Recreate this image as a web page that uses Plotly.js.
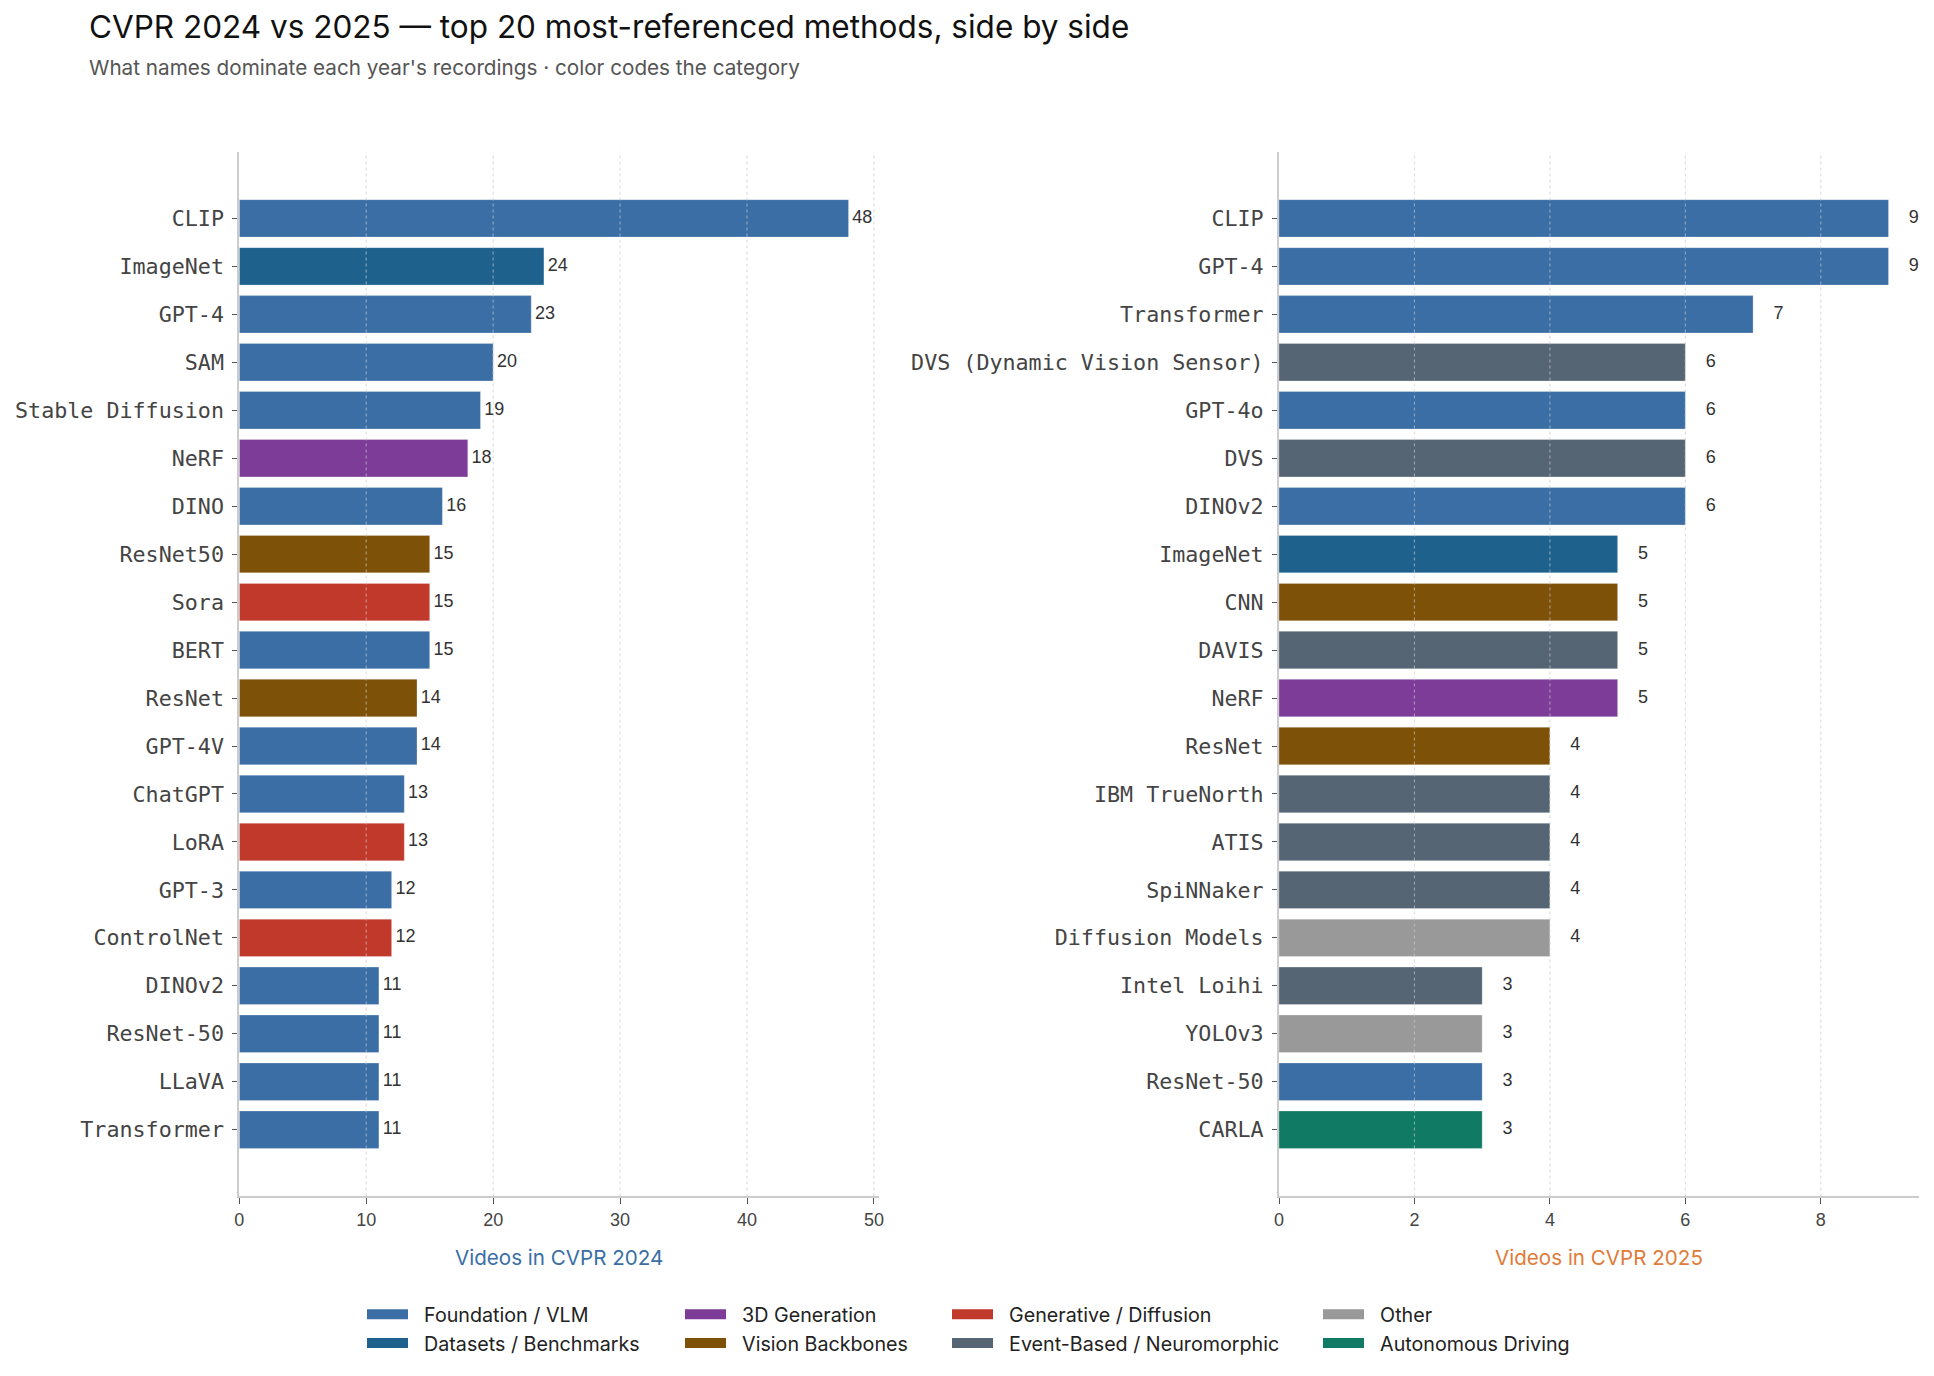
<!DOCTYPE html>
<html><head><meta charset="utf-8">
<script src="https://cdn.plot.ly/plotly-3.0.1.min.js"></script>
<style>html,body{margin:0;padding:0;background:#fff}</style>
</head><body><div id="chart" style="width:1934px;height:1376px"></div>
<script>
const names2024 = ["CLIP","ImageNet","GPT-4","SAM","Stable Diffusion","NeRF","DINO","ResNet50","Sora","BERT","ResNet","GPT-4V","ChatGPT","LoRA","GPT-3","ControlNet","DINOv2","ResNet-50","LLaVA","Transformer"];
const values2024 = [48,24,23,20,19,18,16,15,15,15,14,14,13,13,12,12,11,11,11,11];
const cats2024 = ["Foundation / VLM","Datasets / Benchmarks","Foundation / VLM","Foundation / VLM","Foundation / VLM","3D Generation","Foundation / VLM","Vision Backbones","Generative / Diffusion","Foundation / VLM","Vision Backbones","Foundation / VLM","Foundation / VLM","Generative / Diffusion","Foundation / VLM","Generative / Diffusion","Foundation / VLM","Foundation / VLM","Foundation / VLM","Foundation / VLM"];
const ticks2024 = [0,10,20,30,40,50];

const names2025 = ["CLIP","GPT-4","Transformer","DVS (Dynamic Vision Sensor)","GPT-4o","DVS","DINOv2","ImageNet","CNN","DAVIS","NeRF","ResNet","IBM TrueNorth","ATIS","SpiNNaker","Diffusion Models","Intel Loihi","YOLOv3","ResNet-50","CARLA"];
const values2025 = [9,9,7,6,6,6,6,5,5,5,5,4,4,4,4,4,3,3,3,3];
const cats2025 = ["Foundation / VLM","Foundation / VLM","Foundation / VLM","Event-Based / Neuromorphic","Foundation / VLM","Event-Based / Neuromorphic","Foundation / VLM","Datasets / Benchmarks","Vision Backbones","Event-Based / Neuromorphic","3D Generation","Vision Backbones","Event-Based / Neuromorphic","Event-Based / Neuromorphic","Event-Based / Neuromorphic","Other","Event-Based / Neuromorphic","Other","Foundation / VLM","Autonomous Driving"];
const ticks2025 = [0,2,4,6,8];

const categories = ["Foundation / VLM","Datasets / Benchmarks","3D Generation","Vision Backbones","Generative / Diffusion","Event-Based / Neuromorphic","Other","Autonomous Driving"];
const categoryColors = ["#3a6ea5","#1f618d","#7d3c98","#7e5109","#c0392b","#566573","#999999","#117a65"];
const legendColumn = ["legend","legend","legend2","legend2","legend3","legend3","legend4","legend4"];

const W = 1934, H = 1376;
const textFont = "Inter, Liberation Sans, Arial, sans-serif";
const numFont = "Liberation Sans, Arial, sans-serif";
const monoFont = "DejaVu Sans Mono, monospace";

const panels = [
  {names: names2024, values: values2024, cats: cats2024, ticks: ticks2024, xa: "x", ya: "y"},
  {names: names2025, values: values2025, cats: cats2025, ticks: ticks2025, xa: "x2", ya: "y2"}
];

const traces = [];
const shapes = [];
panels.forEach(p => {
  categories.forEach((c, ci) => {
    const idx = p.cats.map((v, i) => v === c ? i : -1).filter(i => i >= 0);
    if (!idx.length) return;
    traces.push({
      type: "bar", orientation: "h",
      x: idx.map(i => p.values[i]), y: idx.map(i => p.names[i]),
      xaxis: p.xa, yaxis: p.ya,
      name: c, legendgroup: c, showlegend: false,
      marker: {color: categoryColors[ci], line: {width: 1, color: "rgba(255,255,255,0.25)"}},
      width: 0.78,
      hovertemplate: "%{y}: %{x}<extra>" + c + "</extra>"
    });
  });
  traces.push({
    type: "scatter", mode: "text",
    x: p.values.map(v => v + 0.3), y: p.names,
    text: p.values.map(String), textposition: "middle right",
    textfont: {family: numFont, size: 18, color: "#333"},
    xaxis: p.xa, yaxis: p.ya, showlegend: false, hoverinfo: "skip", cliponaxis: false
  });
  // dotted vertical gridlines drawn above the bars, at the tick values
  p.ticks.slice(1).forEach(t => {
    shapes.push({
      type: "line", layer: "above", xref: p.xa, yref: p.ya + " domain",
      x0: t, x1: t, y0: 0, y1: 1,
      line: {color: "rgba(200,200,200,0.6)", width: 1.2, dash: "dot"}
    });
  });
});

// legend-only entries (wide colour swatches), one per category
categories.forEach((c, ci) => {
  traces.push({
    type: "scatter", mode: "lines", x: [null], y: [null],
    name: "\u00a0\u00a0" + c, legendgroup: c, legend: legendColumn[ci], showlegend: true,
    line: {color: categoryColors[ci], width: 15}, hoverinfo: "skip"
  });
});

const px = v => v / W;
const py = v => 1 - v / H;

function xaxisDef(domain, maxV, ticks, titleText, titleColor) {
  return {
    domain: domain, range: [0, maxV * 1.05], tickmode: "array", tickvals: ticks,
    showgrid: false, zeroline: false, showline: true, linecolor: "#cccccc", linewidth: 2,
    ticks: "outside", ticklen: 6, tickcolor: "#555", tickwidth: 1.2,
    tickfont: {family: numFont, size: 18, color: "#444"},
    title: {text: titleText, font: {family: textFont, size: 20.6, color: titleColor}, standoff: 22},
    automargin: false, fixedrange: true
  };
}
function yaxisDef(names, anchor) {
  return {
    domain: [py(1196.4), py(151.7)], anchor: anchor,
    type: "category", categoryorder: "array", categoryarray: names,
    range: [names.length - 1 + 1.39, -1.39],
    showgrid: false, zeroline: false, showline: true, linecolor: "#cccccc", linewidth: 2,
    ticks: "outside", ticklen: 5, tickcolor: "#555", tickwidth: 1.2,
    ticklabelstandoff: 4,
    tickfont: {family: monoFont, size: 21.7, color: "#444"},
    automargin: false, fixedrange: true
  };
}

const legendBase = {
  orientation: "v", xanchor: "left", yanchor: "top", y: py(1295),
  font: {family: textFont, size: 19.7, color: "#222"}, itemwidth: 41,
  bgcolor: "rgba(0,0,0,0)", traceorder: "grouped", tracegroupgap: 0
};

const layout = {
  width: W, height: H,
  margin: {l: 0, r: 0, t: 0, b: 0},
  paper_bgcolor: "#fff", plot_bgcolor: "#fff",
  barmode: "overlay",
  title: {text: "CVPR 2024 vs 2025 \u2014 top 20 most-referenced methods, side by side",
    x: px(89), xanchor: "left", xref: "paper", y: py(27), yanchor: "middle", yref: "container",
    font: {family: textFont, size: 31.5, color: "#111"}},
  annotations: [{
    text: "What names dominate each year's recordings \u00b7 color codes the category",
    xref: "paper", yref: "paper", x: px(87), y: py(68), xanchor: "left", yanchor: "middle",
    showarrow: false, font: {family: textFont, size: 20.7, color: "#555"}
  }],
  shapes: shapes,
  xaxis: xaxisDef([px(239.3), px(879)], 48, ticks2024, "Videos in CVPR 2024", "#3a6ea5"),
  xaxis2: xaxisDef([px(1279), px(1919)], 9, ticks2025, "Videos in CVPR 2025", "#e07b39"),
  yaxis: yaxisDef(names2024, "x"),
  yaxis2: yaxisDef(names2025, "x2"),
  legend: Object.assign({}, legendBase, {x: px(362)}),
  legend2: Object.assign({}, legendBase, {x: px(680)}),
  legend3: Object.assign({}, legendBase, {x: px(947)}),
  legend4: Object.assign({}, legendBase, {x: px(1318)}),
  hovermode: "closest"
};

Plotly.newPlot("chart", traces, layout, {displayModeBar: false, responsive: false});
</script>
</body></html>
